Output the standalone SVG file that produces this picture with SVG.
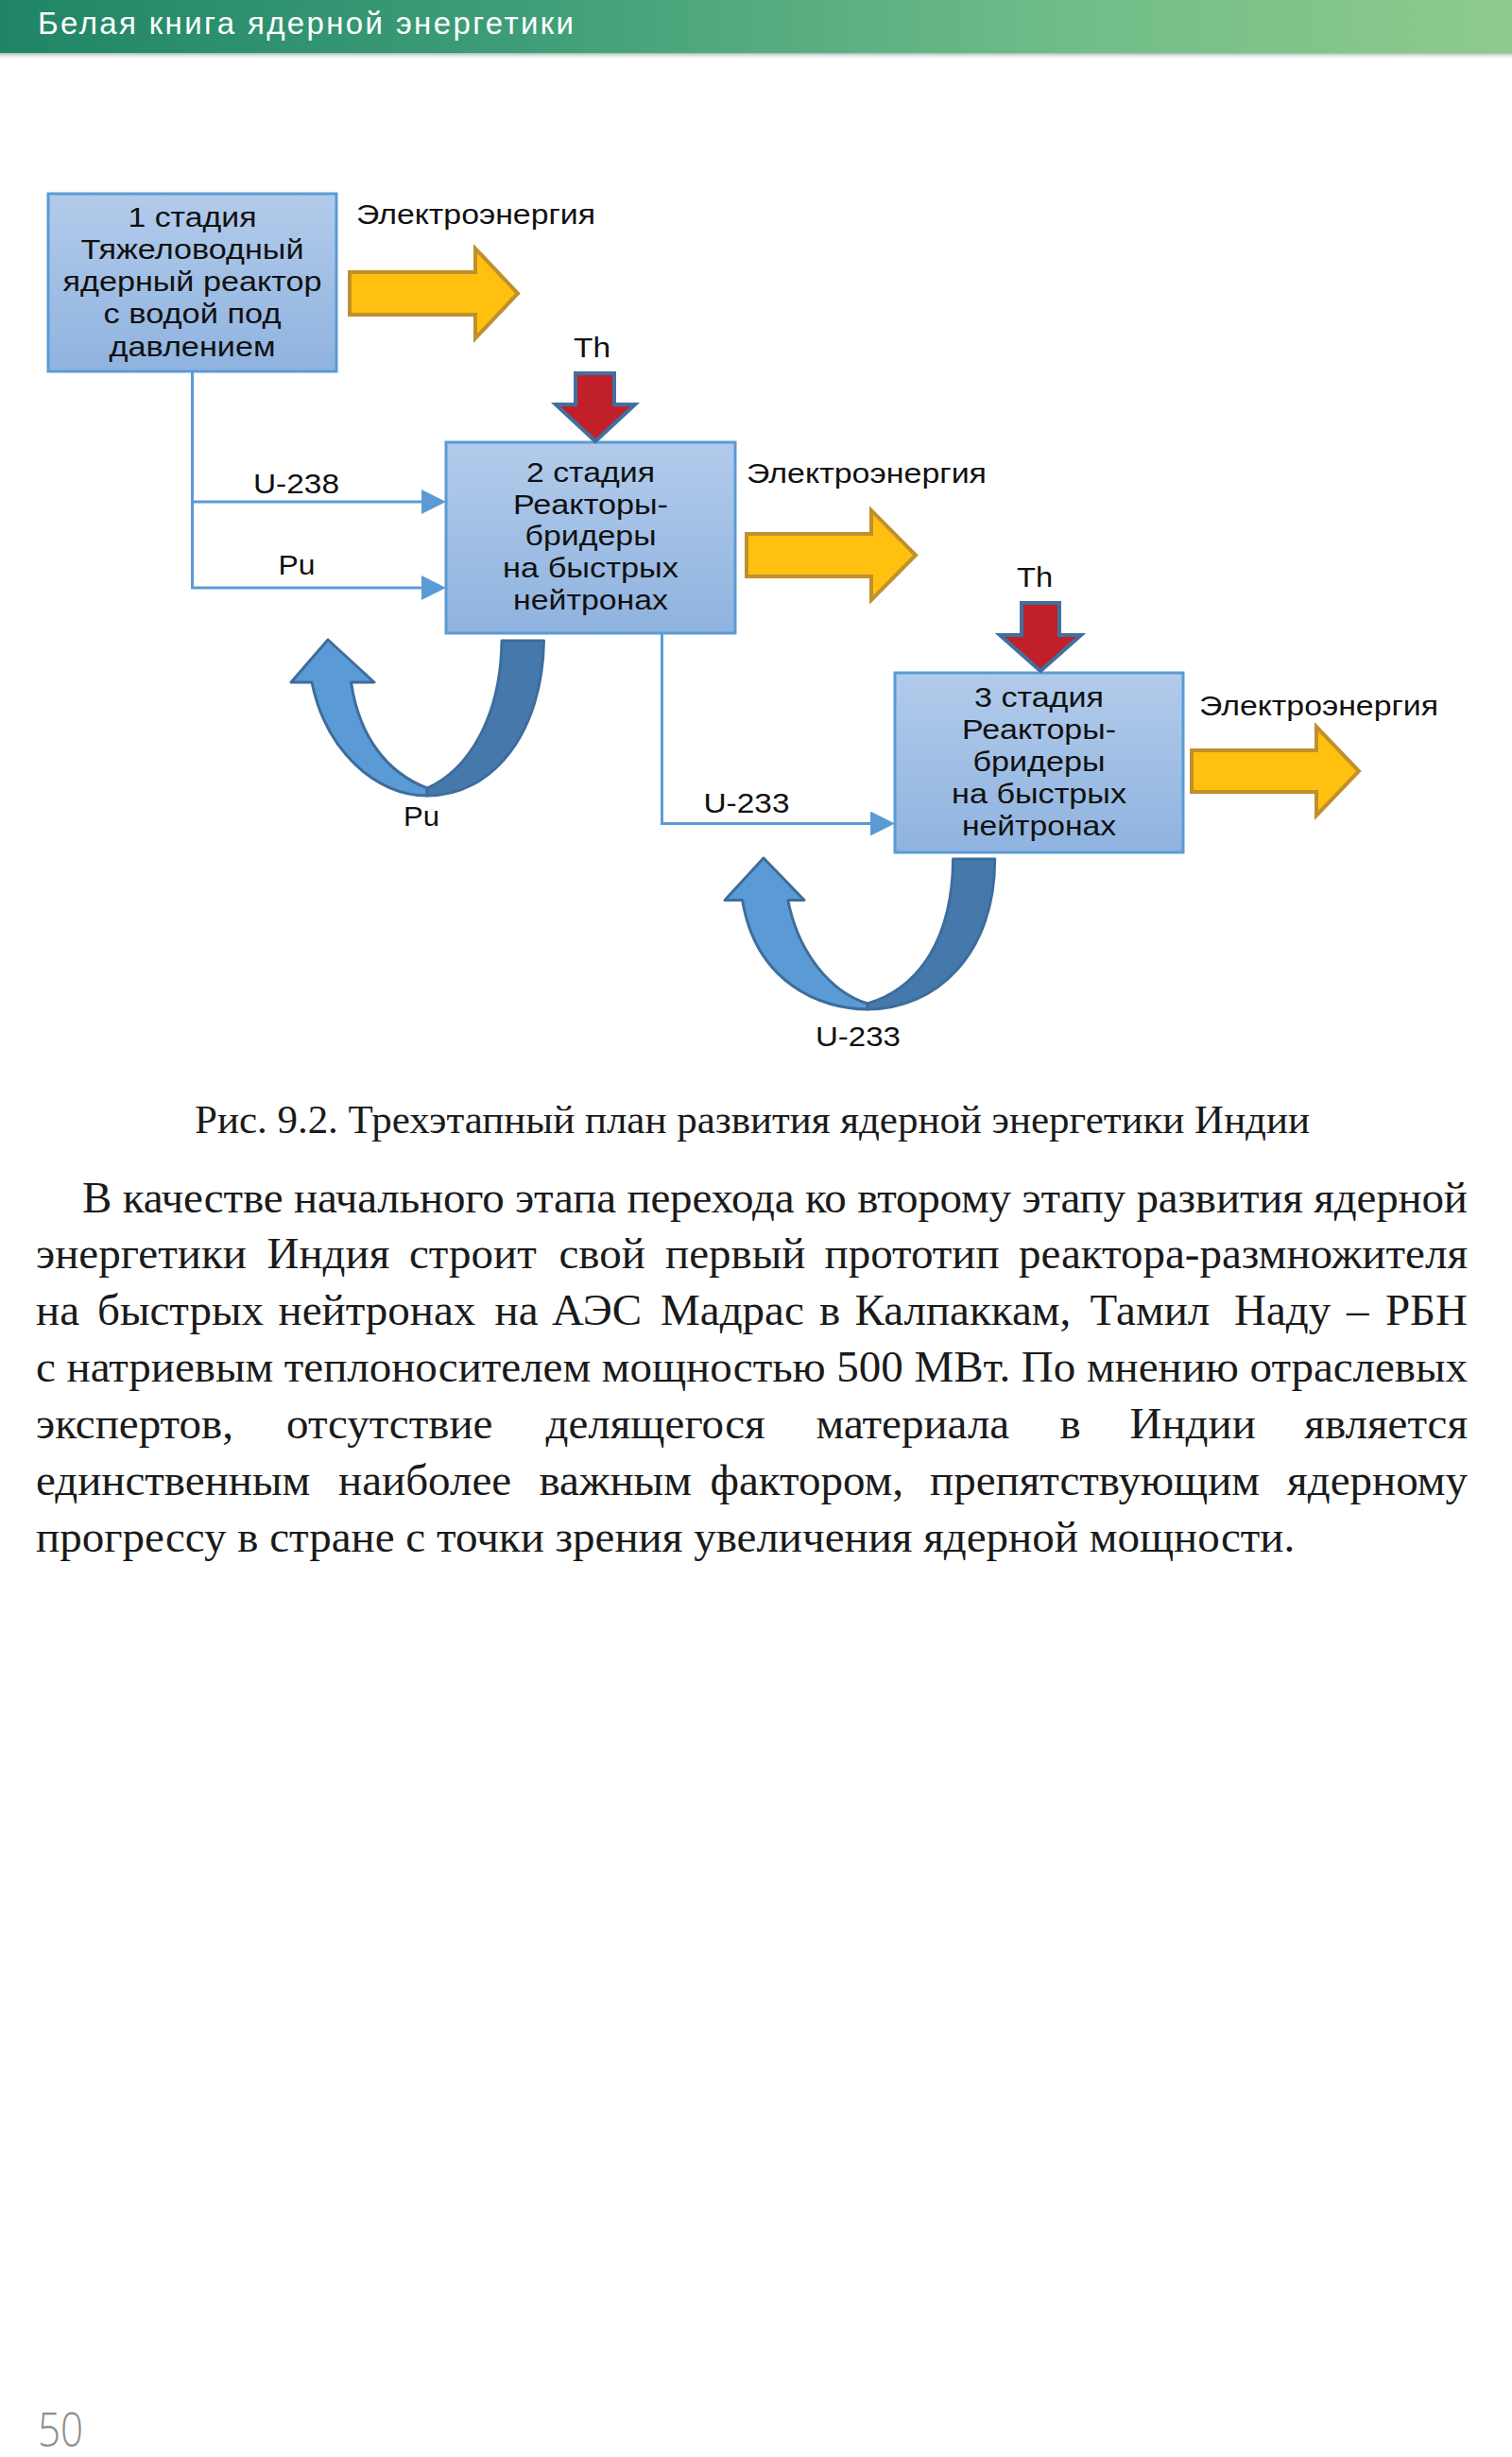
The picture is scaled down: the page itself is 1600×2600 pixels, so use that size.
<svg xmlns="http://www.w3.org/2000/svg" width="1600" height="2600" viewBox="0 0 1600 2600">
<defs>
  <linearGradient id="hdr" x1="0" y1="0" x2="1" y2="0">
    <stop offset="0" stop-color="#1f8566"/>
    <stop offset="0.35" stop-color="#3f9e78"/>
    <stop offset="0.7" stop-color="#6fbc88"/>
    <stop offset="1" stop-color="#8fcb8c"/>
  </linearGradient>
  <linearGradient id="hdrsh" x1="0" y1="0" x2="0" y2="1">
    <stop offset="0" stop-color="#9fb8ad"/>
    <stop offset="1" stop-color="#ffffff" stop-opacity="0"/>
  </linearGradient>
  <linearGradient id="boxg" x1="0" y1="0" x2="0" y2="1">
    <stop offset="0" stop-color="#b2cbeb"/>
    <stop offset="1" stop-color="#8fb3df"/>
  </linearGradient>
  <marker id="ah" markerUnits="userSpaceOnUse" markerWidth="26" markerHeight="26" refX="14" refY="13" orient="auto">
    <path d="M0,0 L26,13 L0,26 Z" fill="#5b9bd5"/>
  </marker>
  <style>
    .box{fill:url(#boxg);stroke:#5b9bd5;stroke-width:3}
    .bt{font-family:"Liberation Sans",Arial,sans-serif;font-size:29px;fill:#111;text-anchor:middle}
    .lbl{font-family:"Liberation Sans",Arial,sans-serif;font-size:29px;fill:#111}
    .conn{fill:none;stroke:#5b9bd5;stroke-width:3;marker-end:url(#ah)}
    .energy{fill:#ffc010;stroke:#c0902c;stroke-width:4}
    .th{fill:#c0202a;stroke:#41709f;stroke-width:4}
    .loopL{fill:#5b9bd5;stroke:#3d6d9c;stroke-width:3;stroke-linejoin:round}
    .loopD{fill:#4679ab;stroke:#3d6d9c;stroke-width:3;stroke-linejoin:round}
    .body{font-family:"Liberation Serif","Times New Roman",serif;font-size:47px;fill:#1a1a1a}
    .end{text-anchor:end}
  </style>
</defs>
<rect width="1600" height="2600" fill="#ffffff"/>

<g id="header">
  <rect x="0" y="0" width="1600" height="56" fill="url(#hdr)"/>
  <rect x="0" y="56" width="1600" height="7" fill="url(#hdrsh)"/>
  <text x="40" y="36" font-family="'Liberation Sans',Arial,sans-serif" font-size="33" fill="#ffffff" textLength="567" lengthAdjust="spacing">Белая книга ядерной энергетики</text>
</g>

<g id="connectors">
  <path class="conn" d="M203.5,393 V531 H460"/>
  <path class="conn" d="M203.5,531 V622 H460"/>
  <path class="conn" d="M700.5,670 V871.5 H935"/>
  <g id="loop-pu">
    <path class="loopL" d="M308,722 L347,677 L396,722 L371.5,722 C380,780 410,818 452,834 L452,842 C398,842 345,795 330,722 Z"/>
    <path class="loopD" d="M531,678 L575.5,678 C574,775 522,842 452,842 L452,834 C495,815 530,760 531,678 Z"/>
  </g>
  <g id="loop-u233">
    <path class="loopL" d="M767,952.5 L808,908 L851,952.5 L833.8,952.5 C845,1010 880,1050 918,1062 L918,1068 C868,1068 800,1040 785.6,952.5 Z"/>
    <path class="loopD" d="M1008.6,909 L1052.7,909 C1053,1010 990,1068 918,1068 L918,1062 C975,1045 1008,990 1008.6,909 Z"/>
  </g>
  <text class="lbl" x="268" y="522" textLength="91" lengthAdjust="spacingAndGlyphs">U-238</text>
  <text class="lbl" x="294.5" y="608" textLength="39" lengthAdjust="spacingAndGlyphs">Pu</text>
  <text class="lbl" x="744.5" y="860" textLength="91" lengthAdjust="spacingAndGlyphs">U-233</text>
  <text class="lbl" x="427" y="874" textLength="38" lengthAdjust="spacingAndGlyphs">Pu</text>
  <text class="lbl" x="863" y="1107" textLength="90" lengthAdjust="spacingAndGlyphs">U-233</text>
</g>

<g id="node-stage1">
  <rect class="box" x="51" y="205" width="305" height="188"/>
  <text class="bt" x="203.5" y="240" textLength="136" lengthAdjust="spacingAndGlyphs">1 стадия</text>
  <text class="bt" x="203.5" y="274" textLength="236" lengthAdjust="spacingAndGlyphs">Тяжеловодный</text>
  <text class="bt" x="203.5" y="308" textLength="274" lengthAdjust="spacingAndGlyphs">ядерный реактор</text>
  <text class="bt" x="203.5" y="342" textLength="188" lengthAdjust="spacingAndGlyphs">с водой под</text>
  <text class="bt" x="203.5" y="376.5" textLength="176" lengthAdjust="spacingAndGlyphs">давлением</text>
</g>

<g id="node-stage2">
  <rect class="box" x="472" y="468" width="306" height="202"/>
  <text class="bt" x="625" y="510" textLength="136" lengthAdjust="spacingAndGlyphs">2 стадия</text>
  <text class="bt" x="625" y="543.5" textLength="164" lengthAdjust="spacingAndGlyphs">Реакторы-</text>
  <text class="bt" x="625" y="577" textLength="139" lengthAdjust="spacingAndGlyphs">бридеры</text>
  <text class="bt" x="625" y="611" textLength="186" lengthAdjust="spacingAndGlyphs">на быстрых</text>
  <text class="bt" x="625" y="644.5" textLength="164" lengthAdjust="spacingAndGlyphs">нейтронах</text>
</g>

<g id="node-stage3">
  <rect class="box" x="947" y="712" width="305" height="190"/>
  <text class="bt" x="1099.5" y="748" textLength="137" lengthAdjust="spacingAndGlyphs">3 стадия</text>
  <text class="bt" x="1099.5" y="782" textLength="163" lengthAdjust="spacingAndGlyphs">Реакторы-</text>
  <text class="bt" x="1099.5" y="816" textLength="140" lengthAdjust="spacingAndGlyphs">бридеры</text>
  <text class="bt" x="1099.5" y="850" textLength="185" lengthAdjust="spacingAndGlyphs">на быстрых</text>
  <text class="bt" x="1099.5" y="884" textLength="163" lengthAdjust="spacingAndGlyphs">нейтронах</text>
</g>

<g id="energy-out-1">
  <polygon class="energy" points="370,288 503,288 503,263 548,310.5 503,358 503,333 370,333"/>
  <text class="lbl" x="377" y="237" textLength="253" lengthAdjust="spacingAndGlyphs">Электроэнергия</text>
</g>
<g id="energy-out-2">
  <polygon class="energy" points="790,565 922,565 922,540 969,587.5 922,635 922,610 790,610"/>
  <text class="lbl" x="790" y="511" textLength="254" lengthAdjust="spacingAndGlyphs">Электроэнергия</text>
</g>
<g id="energy-out-3">
  <polygon class="energy" points="1261,794 1393,794 1393,769 1438,816 1393,863 1393,838 1261,838"/>
  <text class="lbl" x="1269" y="757" textLength="253" lengthAdjust="spacingAndGlyphs">Электроэнергия</text>
</g>
<g id="thorium-in-2">
  <polygon class="th" points="609,395 650,395 650,428 672,428 630,467 588,428 609,428"/>
  <text class="lbl" x="607" y="378" textLength="39" lengthAdjust="spacingAndGlyphs">Th</text>
</g>
<g id="thorium-in-3">
  <polygon class="th" points="1081,638 1121,638 1121,672 1144,672 1101,710 1058,672 1081,672"/>
  <text class="lbl" x="1076" y="621" textLength="38" lengthAdjust="spacingAndGlyphs">Th</text>
</g>

<g id="caption">
  <text x="206" y="1199" font-family="'Liberation Serif','Times New Roman',serif" font-size="43" fill="#1a1a1a" textLength="1180" lengthAdjust="spacing">Рис. 9.2. Трехэтапный план развития ядерной энергетики Индии</text>
</g>

<g id="body-text">
  <text class="body" x="87" y="1283" textLength="1466" lengthAdjust="spacing">В качестве начального этапа перехода ко второму этапу развития ядерной</text>
  <text class="body" y="1342"><tspan x="38">энергетики</tspan><tspan x="282.5">Индия</tspan><tspan x="433">строит</tspan><tspan x="591.5">свой</tspan><tspan x="704">первый</tspan><tspan x="872.5">прототип</tspan><tspan class="end" x="1553">реактора-размножителя</tspan></text>
  <text class="body" y="1402"><tspan x="38">на</tspan><tspan x="103">быстрых</tspan><tspan x="294.5">нейтронах</tspan><tspan x="523.5">на</tspan><tspan x="584">АЭС</tspan><tspan x="699">Мадрас</tspan><tspan x="867">в</tspan><tspan x="904.5">Калпаккам,</tspan><tspan x="1153.5">Тамил</tspan><tspan x="1306">Наду</tspan><tspan x="1425">–</tspan><tspan class="end" x="1553">РБН</tspan></text>
  <text class="body" x="38" y="1462" textLength="1515" lengthAdjust="spacing">с натриевым теплоносителем мощностью 500 МВт. По мнению отраслевых</text>
  <text class="body" y="1522"><tspan x="38">экспертов,</tspan><tspan x="303">отсутствие</tspan><tspan x="577.5">делящегося</tspan><tspan x="863.5">материала</tspan><tspan x="1121.5">в</tspan><tspan x="1195.5">Индии</tspan><tspan class="end" x="1553">является</tspan></text>
  <text class="body" y="1582"><tspan x="38">единственным</tspan><tspan x="358">наиболее</tspan><tspan x="570.5">важным</tspan><tspan x="751.5">фактором,</tspan><tspan x="984">препятствующим</tspan><tspan class="end" x="1553">ядерному</tspan></text>
  <text class="body" x="38" y="1642">прогрессу в стране с точки зрения увеличения ядерной мощности.</text>
</g>

<g id="page-number">
  <text x="40" y="2589" font-family="'Open Sans','Liberation Sans',sans-serif" font-weight="300" font-size="50" fill="#8c8c8c" textLength="48" lengthAdjust="spacingAndGlyphs">50</text>
</g>
</svg>
